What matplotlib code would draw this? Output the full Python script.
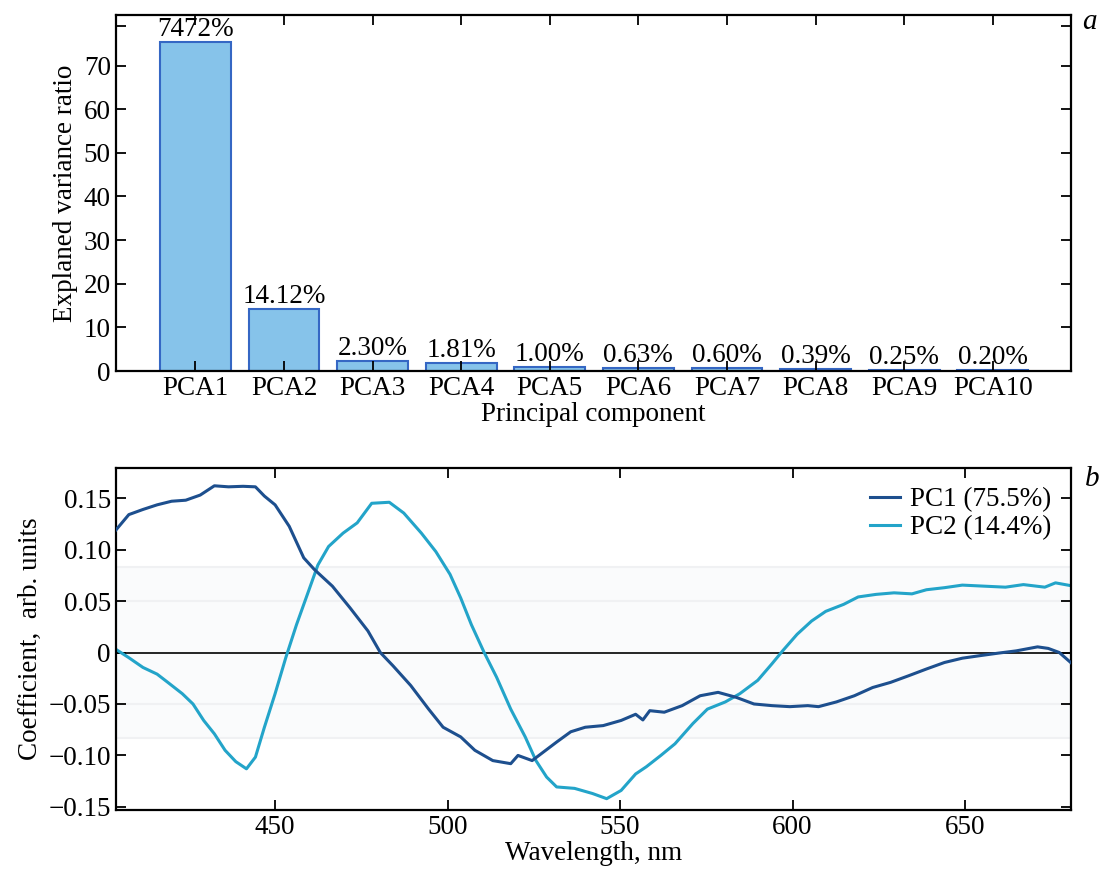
import numpy as np
import matplotlib
matplotlib.use('Agg')
import matplotlib.pyplot as plt
from matplotlib.ticker import FuncFormatter

plt.rcParams['font.family'] = ['Liberation Serif', 'DejaVu Serif']
plt.rcParams['font.size'] = 19.5

# panel a: explained variance per principal component
components = ['PCA1', 'PCA2', 'PCA3', 'PCA4', 'PCA5', 'PCA6', 'PCA7', 'PCA8', 'PCA9', 'PCA10']
variance = [75.4, 14.2, 2.30, 1.81, 1.00, 0.63, 0.60, 0.39, 0.25, 0.20]
bar_labels = ['7472%', '14.12%', '2.30%', '1.81%', '1.00%', '0.63%', '0.60%', '0.39%', '0.25%', '0.20%']

# panel b: loadings of the first two components
pc1_wl = [403.6, 407.6, 411.7, 415.8, 420.0, 424.1, 428.3, 432.4, 436.5, 440.7, 444.3, 446.9,
          450.0, 454.1, 458.3, 461.4, 466.6, 471.7, 476.9, 480.5, 484.2, 489.3, 494.5, 498.7,
          503.8, 507.9, 513.1, 518.3, 520.4, 524.5, 531.6, 535.7, 539.9, 545.1, 550.3, 554.5,
          556.6, 558.6, 562.8, 568.0, 573.2, 578.4, 583.6, 588.8, 594.0, 599.2, 604.4, 607.5,
          612.7, 617.9, 623.2, 628.4, 633.6, 638.8, 644.0, 649.2, 654.4, 659.6, 664.8, 671.0,
          674.1, 677.3, 680.6]
pc1_val = [0.118, 0.134, 0.139, 0.1435, 0.147, 0.148, 0.153, 0.162, 0.161, 0.1615, 0.161, 0.152,
           0.1435, 0.1226, 0.092, 0.0806, 0.0645, 0.0435, 0.021, 0.0, -0.013, -0.032, -0.055, -0.0726,
           -0.082, -0.095, -0.105, -0.108, -0.100, -0.105, -0.087, -0.077, -0.0726, -0.071, -0.066, -0.060,
           -0.0655, -0.0565, -0.058, -0.0516, -0.042, -0.0387, -0.0435, -0.050, -0.0516, -0.0526, -0.0516, -0.0526,
           -0.048, -0.042, -0.034, -0.029, -0.0226, -0.016, -0.0097, -0.0055, -0.003, -0.0006, 0.0016, 0.0055,
           0.004, 0.0, -0.0097]

pc2_wl = [403.9, 407.6, 411.7, 415.8, 418.9, 423.1, 426.2, 429.3, 432.4, 435.5, 438.6, 441.7,
          444.3, 446.9, 450.0, 453.1, 456.2, 459.3, 462.4, 465.5, 469.7, 473.8, 478.0, 483.1,
          487.3, 492.4, 496.6, 500.7, 503.8, 506.9, 510.6, 514.2, 518.3, 522.5, 525.6, 528.7,
          531.6, 536.8, 542.0, 546.1, 550.3, 554.5, 557.6, 561.8, 565.9, 571.1, 575.3, 580.5,
          584.7, 589.9, 594.0, 597.1, 601.3, 605.5, 609.6, 614.8, 619.0, 624.2, 629.4, 634.6,
          638.8, 644.0, 649.2, 655.4, 661.7, 666.9, 673.1, 676.2, 680.6]
pc2_val = [0.003, -0.005, -0.0145, -0.021, -0.029, -0.040, -0.050, -0.066, -0.079, -0.095, -0.106, -0.113,
           -0.1016, -0.0726, -0.040, -0.005, 0.027, 0.056, 0.085, 0.103, 0.116, 0.126, 0.145, 0.146,
           0.1355, 0.116, 0.098, 0.076, 0.053, 0.027, 0.0, -0.024, -0.055, -0.082, -0.105, -0.121,
           -0.1306, -0.132, -0.137, -0.142, -0.134, -0.118, -0.111, -0.100, -0.0887, -0.069, -0.055, -0.048,
           -0.040, -0.027, -0.011, 0.0016, 0.0177, 0.0306, 0.040, 0.0468, 0.054, 0.0565, 0.058, 0.057,
           0.061, 0.063, 0.0655, 0.0645, 0.0635, 0.066, 0.0635, 0.0677, 0.065]

BAR_FACE = '#86c3ea'
BAR_EDGE = '#3567c4'
PC1_COLOR = '#1d4f8e'
PC2_COLOR = '#23a4c9'


def style_axes(ax):
    for sp in ax.spines.values():
        sp.set_linewidth(1.6)
    ax.tick_params(which='both', direction='in', top=True, right=True,
                   length=7, width=1.3, labelsize=19.5)


fig = plt.figure(figsize=(11.03, 8.75), dpi=100)

# ---- panel a
ax1 = fig.add_axes([0.1049, 0.576, 0.8658, 0.4069])
x = np.arange(len(components))
bars = ax1.bar(x, variance, width=0.8, color=BAR_FACE, edgecolor=BAR_EDGE, linewidth=1.5)
ax1.bar_label(bars, labels=bar_labels, padding=0, fontsize=19.5)
ax1.set_xticks(x)
ax1.set_xticklabels(components)
ax1.set_yticks(np.arange(0, 71, 10))
ax1.set_yticks([79], minor=True)
ax1.set_xlim(-0.9, 9.88)
ax1.set_ylim(0, 81.6)
ax1.set_xlabel('Principal component', fontsize=19.5, labelpad=1)
ax1.set_ylabel('Explaned variance ratio', fontsize=19.5)
style_axes(ax1)

# ---- panel b
ax2 = fig.add_axes([0.1049, 0.0743, 0.8658, 0.3905])
ax2.axhspan(-0.083, 0.083, color='#fafbfc', zorder=0, lw=0)
for yv in (-0.083, -0.05, 0.05, 0.083):
    ax2.axhline(yv, color='#f0f1f3', lw=1.5, zorder=0)
ax2.axhline(0, color='black', lw=1.2, zorder=1)
ax2.plot(pc1_wl, pc1_val, color=PC1_COLOR, lw=2.2, label='PC1 (75.5%)', zorder=3)
ax2.plot(pc2_wl, pc2_val, color=PC2_COLOR, lw=2.2, label='PC2 (14.4%)', zorder=2)
ax2.set_xlim(403.8, 680.6)
ax2.set_ylim(-0.153, 0.179)
ax2.set_xticks([450, 500, 550, 600, 650])
ax2.set_yticks([-0.15, -0.10, -0.05, 0, 0.05, 0.10, 0.15])
ax2.yaxis.set_major_formatter(FuncFormatter(
    lambda v, p: '0' if abs(v) < 1e-9 else f'{v:.2f}'.replace('-', '\u2212')))
ax2.set_xlabel('Wavelength, nm', fontsize=19.5, labelpad=1)
ax2.set_ylabel('Coefficient,  arb. units', fontsize=19.5)
ax2.legend(loc='upper right', frameon=False, fontsize=19.5, handlelength=1.1,
           handletextpad=0.4, labelspacing=0.1, borderaxespad=0.3)
style_axes(ax2)

fig.text(0.988, 0.975, 'a', fontsize=21, style='italic', ha='center', va='center')
fig.text(0.99, 0.452, 'b', fontsize=21, style='italic', ha='center', va='center')

fig.savefig('out.png', dpi=100)
